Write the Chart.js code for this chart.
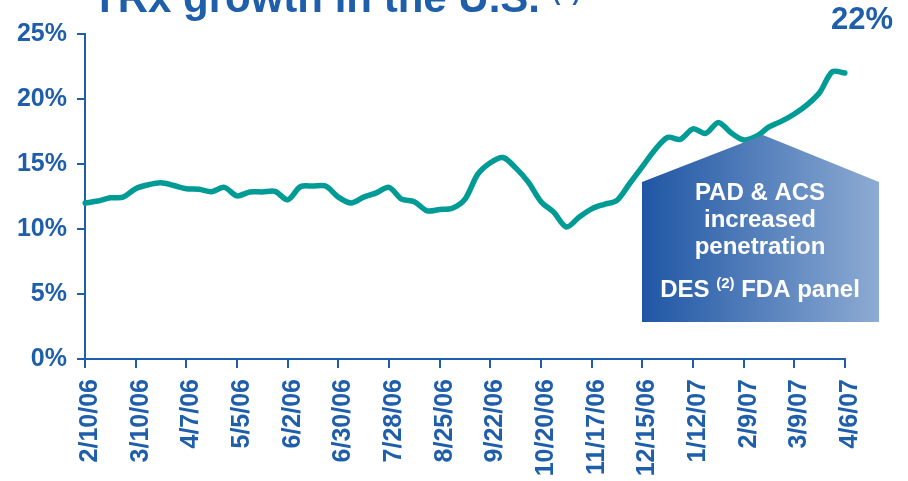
<!DOCTYPE html>
<html lang="en">
<head>
<meta charset="UTF-8">
<title>TRx growth in the U.S.</title>
<script src="https://cdn.jsdelivr.net/npm/chart.js"></script>
<style>
  html, body {
    margin: 0;
    padding: 0;
    background: #fff;
    overflow: hidden;
  }
  #wrap {
    position: relative;
    width: 908px;
    height: 481px;
  }
</style>
</head>
<body>
  <div id="wrap">
    <canvas id="chart" width="908" height="481"></canvas>
  </div>
  <script>
    // labelled weeks, one every 4 weeks
    const tickLabels = ['2/10/06', '3/10/06', '4/7/06', '5/5/06', '6/2/06', '6/30/06', '7/28/06', '8/25/06',
      '9/22/06', '10/20/06', '11/17/06', '12/15/06', '1/12/07', '2/9/07', '3/9/07', '4/6/07']
    // weekly TRx growth, %
    const growth = [
      12.0, 12.15, 12.4, 12.45, 13.1, 13.4, 13.55, 13.35, 13.1, 13.05,
      12.87, 13.2, 12.55, 12.85, 12.85, 12.9, 12.25, 13.25, 13.3, 13.3,
      12.45, 12.0, 12.45, 12.78, 13.2, 12.3, 12.1, 11.4, 11.5, 11.6,
      12.3, 14.2, 15.1, 15.5, 14.7, 13.6, 12.1, 11.3, 10.15, 10.9,
      11.55, 11.9, 12.2, 13.5, 14.8, 16.1, 17.05, 16.9, 17.7, 17.35,
      18.2, 17.4, 16.85, 17.13, 17.85, 18.3, 18.85, 19.55, 20.5, 22.1,
      22.0
    ]
    const noteLines = ['PAD & ACS', 'increased', 'penetration']

    const blue = '#1f5eaa'
    const teal = '#009b95'
    const font = 'Liberation Sans, Arial, sans-serif'

    const weeks = growth.map((v, i) => i % 4 === 0 ? tickLabels[i / 4] : '')

    const overlay = {
      id: 'overlay',
      afterDatasetsDraw(chart) {
        const ctx = chart.ctx
        ctx.save()

        // title, runs off the top edge
        ctx.fillStyle = blue
        ctx.textBaseline = 'alphabetic'
        ctx.textAlign = 'left'
        ctx.font = `bold 42px ${font}`
        ctx.fillText('TRx growth in the U.S.', 92, 12)
        ctx.font = `bold 22px ${font}`
        ctx.fillText('(1)', 553, 0)

        // last value label
        const pts = chart.getDatasetMeta(0).data
        const last = pts[pts.length - 1]
        ctx.font = `bold 31px ${font}`
        ctx.textAlign = 'center'
        ctx.fillText(Math.round(growth[growth.length - 1]) + '%', last.x + 17, last.y - 44)

        // arrow box
        const l = 642, r = 879, shoulder = 182, apex = 135, bottom = 322, mid = 763
        const grad = ctx.createLinearGradient(l, 0, r, 0)
        grad.addColorStop(0, '#1f56a4')
        grad.addColorStop(1, '#8dabd3')
        ctx.fillStyle = grad
        ctx.beginPath()
        ctx.moveTo(l, shoulder)
        ctx.lineTo(mid, apex)
        ctx.lineTo(r, shoulder)
        ctx.lineTo(r, bottom)
        ctx.lineTo(l, bottom)
        ctx.closePath()
        ctx.fill()

        ctx.fillStyle = '#fff'
        ctx.font = `bold 24px ${font}`
        const cx = 760
        noteLines.forEach((t, i) => ctx.fillText(t, cx, 200 + i * 27))

        // "DES (2) FDA panel" with raised note mark
        const a = 'DES ', b = '(2)', c = ' FDA panel'
        ctx.font = `bold 24px ${font}`
        const wa = ctx.measureText(a).width, wc = ctx.measureText(c).width
        ctx.font = `bold 15px ${font}`
        const wb = ctx.measureText(b).width
        let x = cx - (wa + wb + wc) / 2
        ctx.textAlign = 'left'
        ctx.font = `bold 24px ${font}`
        ctx.fillText(a, x, 297)
        ctx.font = `bold 15px ${font}`
        ctx.fillText(b, x + wa, 288)
        ctx.font = `bold 24px ${font}`
        ctx.fillText(c, x + wa + wb, 297)

        ctx.restore()
      }
    }

    const chart = new Chart(document.getElementById('chart'), {
      type: 'line',
      data: {
        labels: weeks,
        datasets: [{
          data: growth,
          borderColor: teal,
          borderWidth: 5.5,
          borderCapStyle: 'round',
          borderJoinStyle: 'round',
          pointRadius: 0,
          tension: 0.3,
          fill: false,
        }]
      },
      options: {
        responsive: false,
        animation: false,
        layout: {
          padding: { top: 34, right: 63, left: 0, bottom: 0 }
        },
        plugins: {
          legend: { display: false },
          tooltip: { enabled: false },
        },
        scales: {
          x: {
            offset: false,
            afterFit: s => { s.height = 122 },
            afterBuildTicks: s => { s.ticks = s.ticks.filter(t => t.value % 4 === 0) },
            border: { color: blue, width: 2 },
            grid: { drawOnChartArea: false, tickLength: 9, color: blue, lineWidth: 2 },
            ticks: {
              autoSkip: false,
              minRotation: 90,
              maxRotation: 90,
              padding: 11,
              labelOffset: 5,
              color: blue,
              font: { family: font, size: 25, weight: 'bold' },
              callback: function (v) { return this.getLabelForValue(v) },
            }
          },
          y: {
            min: 0,
            max: 25,
            afterFit: s => { s.width = 85 },
            border: { color: blue, width: 2 },
            grid: { drawOnChartArea: false, tickLength: 8, color: blue, lineWidth: 2 },
            ticks: {
              stepSize: 5,
              padding: 10,
              color: blue,
              font: { family: font, size: 25, weight: 'bold' },
              callback: v => v + '%',
            }
          }
        }
      },
      plugins: [overlay]
    })
  </script>
</body>
</html>
